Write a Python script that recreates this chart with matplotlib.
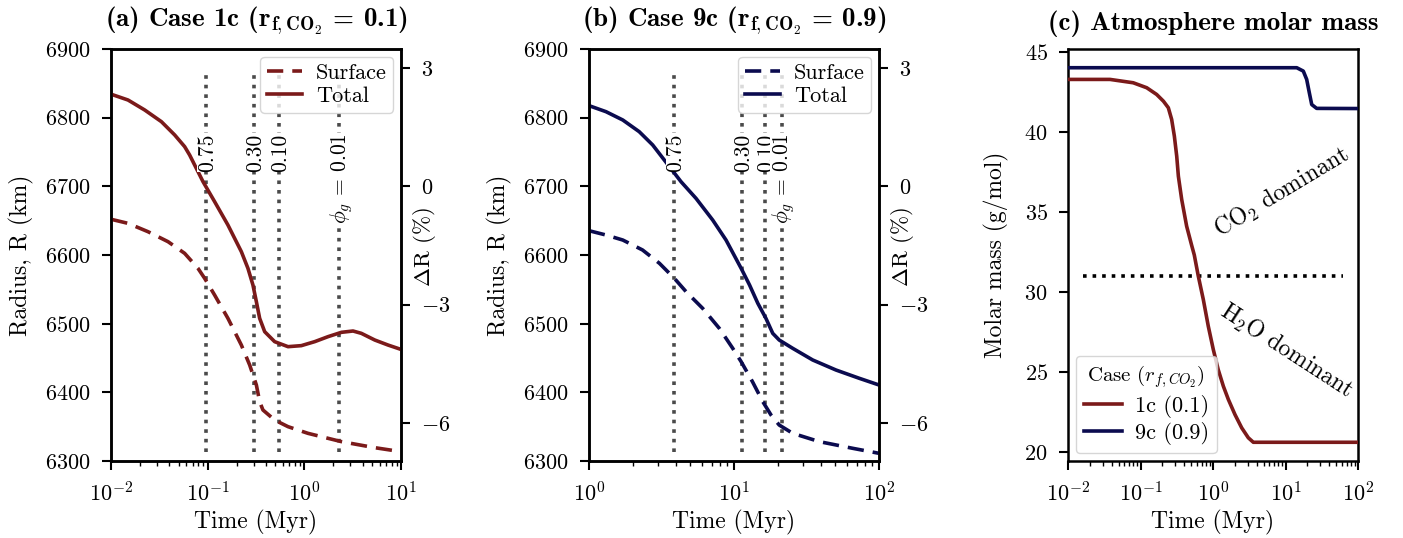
import matplotlib; matplotlib.use('Agg')
import matplotlib.pyplot as plt
import matplotlib.transforms as mtransforms
import numpy as np

plt.rcParams['font.family'] = 'serif'
plt.rcParams['font.serif'] = ['cmr10']
plt.rcParams['mathtext.fontset'] = 'cm'
plt.rcParams['axes.formatter.use_mathtext'] = True
plt.rcParams['axes.unicode_minus'] = True

RED = '#7b1a1a'
BLUE = '#0b0b4f'
GREY = '#4a4a4a'

# ---- case 1c radius ----
t_1c_tot = [0.0101, 0.0150, 0.0223, 0.0332, 0.0456, 0.0578, 0.0651, 0.0895, 0.118, 0.162, 0.223,
            0.261, 0.294, 0.319, 0.345, 0.389, 0.493, 0.678, 0.931, 1.28, 1.76, 2.42, 3.19, 3.89,
            5.35, 7.33, 10.0]
r_1c_tot = [6834.0, 6825.7, 6811.2, 6794.2, 6774.8, 6757.8, 6745.6, 6706.8, 6677.7, 6643.7, 6604.9,
            6580.6, 6556.3, 6532.0, 6507.8, 6488.3, 6473.8, 6466.5, 6468.0, 6473.8, 6481.1, 6487.4,
            6489.3, 6485.9, 6476.2, 6468.9, 6462.5]
t_1c_srf = [0.0101, 0.0150, 0.0241, 0.0389, 0.0578, 0.0794, 0.0931, 0.118, 0.162, 0.223, 0.272,
            0.319, 0.345, 0.373, 0.493, 0.678, 1.09, 2.42, 5.35, 10.0]
r_1c_srf = [6651.9, 6646.1, 6634.0, 6619.4, 6602.4, 6580.6, 6566.0, 6541.7, 6507.8, 6468.9, 6439.8,
            6410.7, 6386.4, 6374.3, 6359.7, 6350.0, 6340.3, 6328.2, 6319.4, 6313.6]
phi_1c = [0.096, 0.301, 0.546, 2.28]

# ---- case 9c radius ----
t_9c_tot = [1.0, 1.31, 1.71, 2.22, 2.75, 4.31, 5.47, 7.13, 8.81, 11.2, 12.8, 14.6, 16.6,
            18.5, 20.5, 25.4, 34.9, 50.5, 73.2, 100]
r_9c_tot = [6817.5, 6808.7, 6796.6, 6779.6, 6760.2, 6706.8, 6682.5, 6650.9, 6621.8, 6580.6,
            6556.3, 6529.6, 6507.8, 6485.9, 6476.2, 6464.1, 6447.1, 6432.5, 6420.4, 6410.7]
t_9c_srf = [1.0, 1.31, 1.71, 2.34, 3.06, 3.88, 4.67, 6.08, 7.92, 9.80, 11.2, 13.4, 15.8, 18.0,
            20.5, 25.4, 38.8, 65.8, 100]
r_9c_srf = [6635.4, 6629.1, 6621.8, 6607.3, 6587.9, 6566.0, 6546.6, 6522.3, 6493.2, 6464.1, 6444.7,
            6415.6, 6386.4, 6367.0, 6352.4, 6340.3, 6328.2, 6318.5, 6311.2]
phi_9c = [3.86, 11.3, 16.4, 21.3]

phi_labels = ['0.75', '0.30', '0.10', r'$\phi_g$ = 0.01']

# ---- molar mass ----
t_mm_1c = [0.01, 0.038, 0.0794, 0.1218, 0.167, 0.207, 0.242, 0.269, 0.293, 0.316, 0.333, 0.370,
           0.433, 0.508, 0.552, 0.627, 0.735, 0.861, 1.01, 1.18, 1.39, 1.63, 2.01, 2.49, 3.07,
           3.60, 100]
mm_1c = [43.27, 43.27, 43.06, 42.75, 42.33, 41.91, 41.5, 40.77, 39.73, 38.47, 37.22, 35.77,
         34.1, 32.9, 32.3, 30.98, 29.52, 27.85, 26.39, 25.14, 24.1, 23.27, 22.33, 21.5, 20.88,
         20.6, 20.6]
t_mm_9c = [0.01, 14.3, 17.6, 19.6, 21.3, 23.0, 26.9, 100]
mm_9c = [44.0, 44.0, 43.79, 43.27, 42.44, 41.7, 41.46, 41.45]
mm_split = 31.0

R_REF = 6700.0
KM_PER_PCT = 57.4

fig = plt.figure(figsize=(14.03, 5.38), dpi=100)
W, H = 1403, 538
def add_ax(l, r, t=49, b=461):
    return fig.add_axes([l / W, 1 - b / H, (r - l) / W, (b - t) / H])

axa = add_ax(111, 401)
axb = add_ax(589, 879)
axc = add_ax(1068, 1358)

def style(ax, ylab_x):
    ax.tick_params(labelsize=16, width=1.5, length=6.5, pad=8)
    ax.tick_params(which='minor', width=1.0, length=3.5)
    ax.set_xlabel('Time (Myr)', fontsize=17)
    ax.xaxis.set_label_coords(0.5, -0.15)
    ax.xaxis.label.set_verticalalignment('center')
    ax.yaxis.set_label_coords(ylab_x, 0.5)
    ax.yaxis.label.set_verticalalignment('center')
    for s in ax.spines.values():
        s.set_linewidth(1.8)

def radius_panel(ax, tt, rt, ts, rs, phis, col, xlim, title):
    ax.plot(ts, rs, ls=(0, (4.5, 2.5)), color=col, lw=2.6, label='Surface', zorder=3)
    ax.plot(tt, rt, ls='-', color=col, lw=2.6, label='Total', zorder=3)
    # baseline shifted right so the digits sit centred on the dotted line
    shifted = mtransforms.offset_copy(ax.transData, fig=fig, x=7.0, y=0, units='dots')
    for p, lab in zip(phis, phi_labels):
        ax.plot([p, p], [6313, 6870], ls=':', color=GREY, lw=2.6, zorder=2)
        ax.text(p, 6777, lab, rotation=90, rotation_mode='anchor', ha='right', va='baseline',
                fontsize=15.5, zorder=4, transform=shifted,
                bbox=dict(fc='white', ec='none', pad=0.0))
    ax.set_xscale('log')
    ax.set_xlim(*xlim)
    ax.set_ylim(6300, 6900)
    ax.set_yticks([6300, 6400, 6500, 6600, 6700, 6800, 6900])
    ax.set_ylabel('Radius, R (km)', fontsize=17)
    ax.text(0.5, 1.056, title, transform=ax.transAxes, ha='center', va='baseline',
            fontsize=19.5, fontfamily='cmb10')
    style(ax, -0.31)
    ax.legend(loc='upper right', fontsize=16, handlelength=1.6, handletextpad=0.6,
              labelspacing=0.15, borderpad=0.3, borderaxespad=0.35, framealpha=0.8)
    tw = ax.twinx()
    tw.set_ylim((6300 - R_REF) / KM_PER_PCT, (6900 - R_REF) / KM_PER_PCT)
    tw.set_yticks([-6, -3, 0, 3])
    tw.set_ylabel(r'$\Delta$R (%)', fontsize=16.5)
    tw.tick_params(labelsize=16, width=1.5, length=6.5, pad=8)
    tw.yaxis.set_label_coords(1.08, 0.52)
    tw.yaxis.label.set_verticalalignment('center')
    for s in tw.spines.values():
        s.set_linewidth(1.8)

radius_panel(axa, t_1c_tot, r_1c_tot, t_1c_srf, r_1c_srf, phi_1c, RED, (1e-2, 1e1),
             r'(a) Case 1c ($\mathbf{r_{f,CO_2}}$ = 0.1)')
radius_panel(axb, t_9c_tot, r_9c_tot, t_9c_srf, r_9c_srf, phi_9c, BLUE, (1e0, 1e2),
             r'(b) Case 9c ($\mathbf{r_{f,CO_2}}$ = 0.9)')

# molar mass panel
axc.plot(t_mm_1c, mm_1c, color=RED, lw=2.6, label='1c (0.1)', zorder=3)
axc.plot(t_mm_9c, mm_9c, color=BLUE, lw=2.6, label='9c (0.9)', zorder=3)
axc.plot([0.016, 62], [mm_split, mm_split], ls=':', color='black', lw=2.6, zorder=2)
axc.set_xscale('log')
axc.set_xlim(1e-2, 1e2)
axc.set_yticks([20, 25, 30, 35, 40, 45])
axc.text(8.95, 36.2, r'CO$_2$ dominant', rotation=31, ha='center', va='center', fontsize=17)
axc.text(10.2, 26.3, r'H$_2$O dominant', rotation=-33, ha='center', va='center', fontsize=17)
axc.set_ylabel('Molar mass (g/mol)', fontsize=17)
axc.text(0.5, 1.046, '(c) Atmosphere molar mass', transform=axc.transAxes, ha='center',
         va='baseline', fontsize=19.5, fontfamily='cmb10')
style(axc, -0.245)
axc.legend(loc='lower left', title=r'Case ($r_{f,CO_2}$)', fontsize=16, title_fontsize=15,
           handlelength=1.7, handletextpad=0.6, labelspacing=0.2, borderpad=0.35,
           borderaxespad=0.36, framealpha=0.8)

fig.savefig('out.png', dpi=100)
